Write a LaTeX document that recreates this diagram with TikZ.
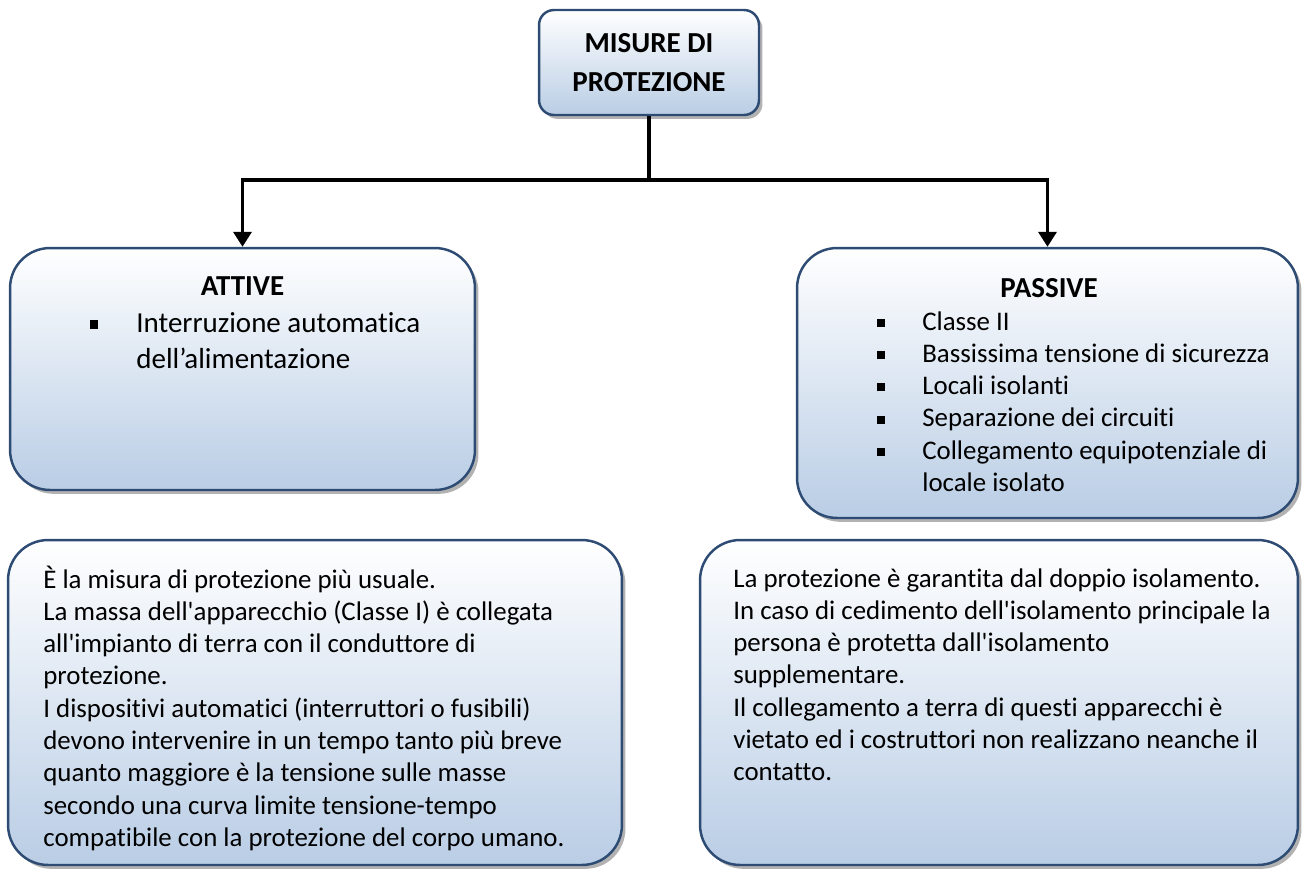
\documentclass[tikz,border=0pt]{standalone}
\usepackage{fontspec}
\setmainfont{Carlito}[Ligatures={TeX,NoCommon}]
\usetikzlibrary{arrows.meta, positioning, shadows}
\definecolor{boxedge}{RGB}{45, 75, 115}
\definecolor{boxfade}{RGB}{185, 205, 229}
\newcommand{\sqbul}{\rule[0.25ex]{4.6pt}{4.6pt}}
\newcommand{\apos}{\textquotesingle}

\begin{document}
\begin{tikzpicture}[
    x=0.02cm, y=-0.02cm,
    cardBox/.style={draw=boxedge, line width=1.4pt, top color=white, bottom color=boxfade, rounded corners=0.8cm,
        drop shadow={shadow xshift=2pt, shadow yshift=-2.2pt, fill=black, opacity=0.3}},
    titleBox/.style={cardBox, rounded corners=0.3cm, font=\fontsize{16.5}{22}\selectfont\bfseries, align=center},
    headText/.style={font=\fontsize{16.5}{20}\selectfont\bfseries, anchor=base, inner sep=0pt},
    bodyText/.style={font=\fontsize{15.3}{18.4}\selectfont, anchor=base west, inner sep=0pt},
    bigText/.style={bodyText, font=\fontsize{16.5}{20.5}\selectfont},
    link/.style={draw=black, line width=2pt},
    arrow/.style={link, -{Triangle[length=3mm, width=3.6mm]}}
]
\useasboundingbox (0,0) rectangle (1306,873);

% Top of the tree
\node[titleBox, minimum width=4.4cm, minimum height=2.1cm] (misure) at (649,62.5) {MISURE DI\\PROTEZIONE};

% Second level
\node[cardBox, minimum width=9.3cm, minimum height=4.84cm] (attive) at (242.5,369) {};
\node[cardBox, minimum width=10.02cm, minimum height=5.4cm] (passive) at (1047.5,383) {};

\node[headText] (attiveHead) at (242.5,295) {ATTIVE};
\node[bigText] (attiveList) at (90,332) {\begin{tabular}[t]{@{}p{0.92cm}@{}l@{}}
    \sqbul & Interruzione automatica\\
           & dell’alimentazione
    \end{tabular}};

\node[headText] (passiveHead) at (1049,297) {PASSIVE};
\node[bodyText] (passiveList) at (877,330) {\begin{tabular}[t]{@{}p{0.9cm}@{}l@{}}
    \sqbul & Classe II\\
    \sqbul & Bassissima tensione di sicurezza\\
    \sqbul & Locali isolanti\\
    \sqbul & Separazione dei circuiti\\
    \sqbul & Collegamento equipotenziale di\\
           & locale isolato
    \end{tabular}};

% Explanations
\node[cardBox, minimum width=12.28cm, minimum height=6.5cm] (attiveNote) at (315,702.5) {};
\node[cardBox, minimum width=11.96cm, minimum height=6.5cm] (passiveNote) at (999,702.5) {};

\node[bodyText] (attiveText) at (43,588) {\begin{tabular}[t]{@{}l@{}}
    È la misura di protezione più usuale.\\
    La massa dell\apos apparecchio (Classe I) è collegata\\
    all\apos impianto di terra con il conduttore di\\
    protezione.\\
    I dispositivi automatici (interruttori o fusibili)\\
    devono intervenire in un tempo tanto più breve\\
    quanto maggiore è la tensione sulle masse\\
    secondo una curva limite tensione-tempo\\
    compatibile con la protezione del corpo umano.
    \end{tabular}};
\node[bodyText] (passiveText) at (733,587) {\begin{tabular}[t]{@{}l@{}}
    La protezione è garantita dal doppio isolamento.\\
    In caso di cedimento dell\apos isolamento principale la\\
    persona è protetta dall\apos isolamento\\
    supplementare.\\
    Il collegamento a terra di questi apparecchi è\\
    vietato ed i costruttori non realizzano neanche il\\
    contatto.
    \end{tabular}};

% Connectors
\coordinate (split) at (649,180);
\draw[link] (misure.south) -- (split);
\draw[arrow] (split) -| (attive.north);
\draw[arrow] (split) -| (passive.north);

\end{tikzpicture}
\end{document}
